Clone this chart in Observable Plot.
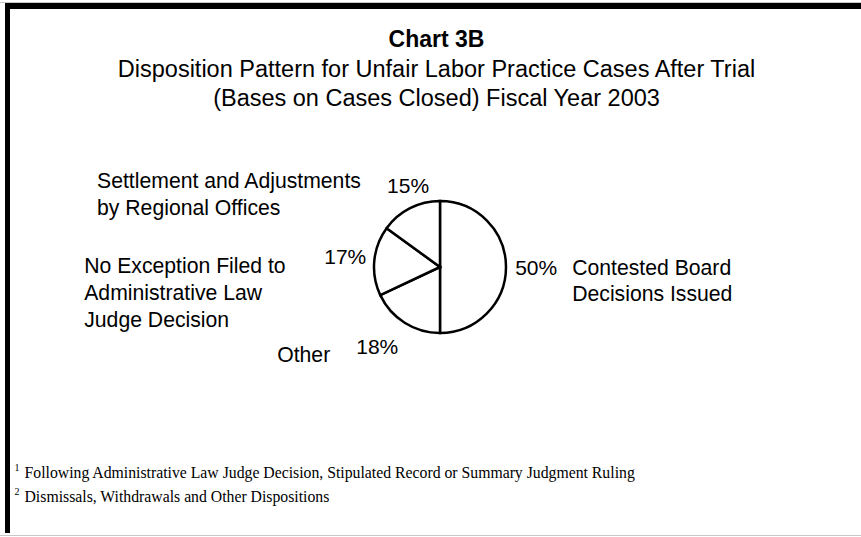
<!DOCTYPE html>
<html>
<head>
<meta charset="utf-8">
<script src="https://cdn.jsdelivr.net/npm/d3@7"></script>
<script src="https://cdn.jsdelivr.net/npm/@observablehq/plot@0.6"></script>
<style>
  html, body { margin: 0; padding: 0; background: #fff; }
  #chart { position: relative; width: 861px; height: 537px; overflow: hidden; background: #fff; }
  #chart svg { position: absolute; left: 0; top: 0; }
  .bar { position: absolute; background: #000; }
  .line { position: absolute; background: #c8c8c8; }
</style>
</head>
<body>
<div id="chart">
  <div class="line" style="left:0;top:2px;width:861px;height:1px;"></div>
  <div class="bar" style="left:5px;top:3px;width:856px;height:6px;"></div>
  <div class="bar" style="left:5px;top:3px;width:5px;height:530px;"></div>
  <div class="line" style="left:0;top:535px;width:861px;height:1px;"></div>
</div>
<script>
// ---- data ----
const categories = [
  "Contested Board Decisions Issued",
  "Other",
  "No Exception Filed to Administrative Law Judge Decision",
  "Settlement and Adjustments by Regional Offices"
];
const categoryLabels = [
  "Contested Board\nDecisions Issued",
  "Other",
  "No Exception Filed to\nAdministrative Law\nJudge Decision",
  "Settlement and Adjustments\nby Regional Offices"
];
const shares = [50, 18, 17, 15];
const percentLabels = ["50%", "18%", "17%", "15%"];
const titleLines = [
  "Chart 3B",
  "Disposition Pattern for Unfair Labor Practice Cases After Trial",
  "(Bases on Cases Closed) Fiscal Year 2003"
];
const footnoteMarks = ["1", "2"];
const footnotes = [
  "Following Administrative Law Judge Decision, Stipulated Record or Summary Judgment Ruling",
  "Dismissals, Withdrawals and Other Dispositions"
];

// ---- layout ----
const W = 861, H = 537;
const cx = 440, cy = 267, R = 66;          // pie centre and radius in px
const pctRadius = 1.45;                     // percent labels, in radii
const pctNudge = [[0, 1], [-12, -1], [0, -1], [11, 4]];           // px
const catOffset = [[36, 11], [-100, 6], [-261, 34], [-311, 7]];    // px, from percent label
const sans = "'Liberation Sans', Arial, Helvetica, sans-serif";
const serif = "'Liberation Serif', 'Times New Roman', serif";
const centerX = 436;

// ---- derived ----
const arcs = d3.pie().sort(null).value(d => d)(shares);
const mid = a => (a.startAngle + a.endAngle) / 2;
const pctPoints = arcs.map((a, i) => ({
  label: percentLabels[i],
  x: pctRadius * Math.sin(mid(a)) + pctNudge[i][0] / R,
  y: pctRadius * Math.cos(mid(a)) - pctNudge[i][1] / R
}));
const catPoints = pctPoints.map((p, i) => ({
  label: categoryLabels[i],
  name: categories[i],
  x: p.x + catOffset[i][0] / R,
  y: p.y - catOffset[i][1] / R
}));

function pieSlices(data) {
  return (index, scales) => {
    const x0 = scales.x(0), y0 = scales.y(0), r = Math.abs(scales.x(1) - scales.x(0));
    const arc = d3.arc().innerRadius(0).outerRadius(r);
    const g = d3.create("svg:g").attr("transform", `translate(${x0},${y0})`);
    g.selectAll("path").data(data).join("path")
      .attr("d", arc)
      .attr("fill", "#fff")
      .attr("stroke", "#000")
      .attr("stroke-width", 2.5)
      .attr("stroke-linejoin", "miter");
    return g.node();
  };
}

const plot = Plot.plot({
  width: W,
  height: H,
  margin: 0,
  style: { fontFamily: sans, color: "#000", background: "transparent", overflow: "visible" },
  x: { domain: [-cx / R, (W - cx) / R], range: [0, W], axis: null },
  y: { domain: [-(H - cy) / R, cy / R], range: [H, 0], axis: null },
  marks: [
    pieSlices(arcs),
    Plot.text(pctPoints, { x: "x", y: "y", text: "label", fontSize: 21, fill: "#000", textAnchor: "middle", lineAnchor: "middle" }),
    Plot.text(catPoints, { x: "x", y: "y", text: "label", fontSize: 21.2, fill: "#000", textAnchor: "start", lineAnchor: "middle", lineHeight: 1.26 }),
    Plot.text([titleLines[0]], { text: d => d, frameAnchor: "top-left", dx: centerX, dy: 46, lineAnchor: "bottom", textAnchor: "middle", fontSize: 23, fontWeight: "bold", fill: "#000" }),
    Plot.text([titleLines[1]], { text: d => d, frameAnchor: "top-left", dx: centerX, dy: 76, lineAnchor: "bottom", textAnchor: "middle", fontSize: 23.5, fill: "#000" }),
    Plot.text([titleLines[2]], { text: d => d, frameAnchor: "top-left", dx: centerX, dy: 105, lineAnchor: "bottom", textAnchor: "middle", fontSize: 23.5, fill: "#000" }),
    Plot.text([footnoteMarks[0]], { text: d => d, frameAnchor: "top-left", dx: 14, dy: 470, lineAnchor: "bottom", textAnchor: "start", fontSize: 10, fontFamily: serif, fill: "#000" }),
    Plot.text([footnotes[0]], { text: d => d, frameAnchor: "top-left", dx: 24, dy: 477, lineAnchor: "bottom", textAnchor: "start", fontSize: 15.75, fontFamily: serif, fill: "#000" }),
    Plot.text([footnoteMarks[1]], { text: d => d, frameAnchor: "top-left", dx: 14, dy: 494, lineAnchor: "bottom", textAnchor: "start", fontSize: 10, fontFamily: serif, fill: "#000" }),
    Plot.text([footnotes[1]], { text: d => d, frameAnchor: "top-left", dx: 24, dy: 501, lineAnchor: "bottom", textAnchor: "start", fontSize: 15.75, fontFamily: serif, fill: "#000" })
  ]
});
document.getElementById("chart").appendChild(plot);
</script>
</body>
</html>
